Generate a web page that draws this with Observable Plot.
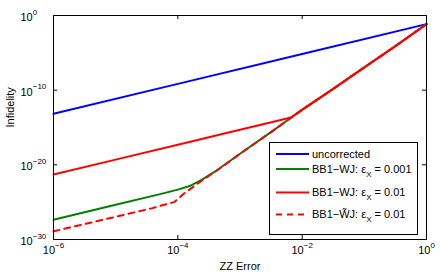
<!DOCTYPE html>
<html><head><meta charset="utf-8">
<script src="https://cdn.jsdelivr.net/npm/d3@7"></script>
<script src="https://cdn.jsdelivr.net/npm/@observablehq/plot@0.6"></script>
<style>html,body{margin:0;padding:0;background:#fff} svg{display:block}</style>
</head><body><div id="chart"></div>
<script>
// ---- tick values and labels ----
const xTicks = [1e-6, 1e-4, 1e-2, 1];
const xTickExps = ["\u22126", "\u22124", "\u22122", "0"];
const yTicks = [1, 1e-10, 1e-20, 1e-30];
const yTickExps = ["0", "\u221210", "\u221220", "\u221230"];

// ---- series ----
const uncorrectedX = [1e-6, 1e-4, 1e-2, 1];
const uncorrectedY = [7e-14, 7e-10, 7e-6, 7e-2];

const bb1wjLowX = [1e-6, 1e-5, 5e-5, 1e-4, 1.6e-4, 2.3e-4, 4e-4, 1e-3, 3.2e-3, 6.6e-3, 1e-2, 3.2e-2, 1e-1, 3.2e-1, 1];
const bb1wjLowY = [4.4e-28, 4.4e-26, 1.1e-24, 4.8e-24, 1.6e-23, 7.9e-23, 1.3e-21, 3e-19, 2.6e-16, 2e-14, 2.3e-13, 1.6e-10, 1.15e-7, 8.5e-5, 7e-2];

const bb1wjHighX = [1e-6, 1e-5, 1e-4, 1e-3, 3.2e-3, 6.6e-3, 1e-2, 3.2e-2, 1e-1, 3.2e-1, 1];
const bb1wjHighY = [5e-22, 5e-20, 5e-18, 5e-16, 5e-15, 2.2e-14, 2.5e-13, 1.6e-10, 1.15e-7, 8.5e-5, 7e-2];

const bb1wtjX = [1e-6, 1e-5, 3.9e-5, 8.9e-5, 1.26e-4, 2.3e-4, 4e-4, 1e-3, 3.2e-3, 6.6e-3, 1e-2, 3.2e-2, 1e-1, 3.2e-1, 1];
const bb1wtjY = [1.26e-29, 1.1e-27, 1.6e-26, 1.1e-25, 1.45e-24, 5.6e-23, 1.26e-21, 2.95e-19, 2.6e-16, 2.0e-14, 2.3e-13, 1.6e-10, 1.15e-7, 8.5e-5, 7e-2];

// ---- legend ----
const legendMain = ["uncorrected", "BB1\u2212WJ: \u03b5", "BB1\u2212WJ: \u03b5", "BB1\u2212W\u0303J: \u03b5"];
const legendSub = ["", "X", "X", "X"];
const legendTail = ["", " = 0.001", " = 0.01", " = 0.01"];
const seriesColors = ["#0000ff", "#008000", "#ff0000", "#ff0000"];
const seriesDash = [null, null, null, "6,5"];

const W = 440, H = 275, mL = 53, mR = 14, mT = 15, mB = 36;
const frameW = W - mL - mR, frameH = H - mT - mB;
const tickLen = 4;
const font = "'Liberation Sans', Arial, Helvetica, sans-serif";

const rows = (xs, ys) => xs.map((x, i) => ({x, y: ys[i]}));
const seriesData = [
  rows(uncorrectedX, uncorrectedY),
  rows(bb1wjLowX, bb1wjLowY),
  rows(bb1wjHighX, bb1wjHighY),
  rows(bb1wtjX, bb1wtjY)
];

const lineMarks = seriesData.map((d, i) => Plot.line(d, {
  x: "x", y: "y", stroke: seriesColors[i], strokeWidth: 2,
  strokeDasharray: seriesDash[i] || undefined, strokeLinejoin: "round"
}));

const svg = Plot.plot({
  width: W, height: H,
  marginLeft: mL, marginRight: mR, marginTop: mT, marginBottom: mB,
  style: {fontFamily: font, fontSize: "11px", background: "white", color: "black", overflow: "visible"},
  x: {type: "log", domain: [1e-6, 1], axis: null},
  y: {type: "log", domain: [1e-30, 1], axis: null},
  marks: [
    ...lineMarks,
    Plot.frame({stroke: "black", strokeWidth: 1}),
    Plot.tickX(xTicks, {x: d => d, insetTop: frameH - tickLen, stroke: "black"}),
    Plot.tickX(xTicks, {x: d => d, insetBottom: frameH - tickLen, stroke: "black"}),
    Plot.tickY(yTicks, {y: d => d, insetRight: frameW - tickLen, stroke: "black"}),
    Plot.tickY(yTicks, {y: d => d, insetLeft: frameW - tickLen, stroke: "black"}),
    Plot.text(xTicks, {x: d => d, frameAnchor: "bottom", dy: 14.5, text: (d, i) => "10|" + xTickExps[i], fontSize: 11, fill: "black"}),
    Plot.text(yTicks, {y: d => d, frameAnchor: "left", dx: -33, dy: 2, textAnchor: "start", text: (d, i) => "10|" + yTickExps[i], fontSize: 11, fill: "black"}),
    Plot.text(["ZZ Error"], {frameAnchor: "bottom", dy: 30, text: d => d, fontSize: 11, fill: "black"}),
    Plot.text(["Infidelity"], {frameAnchor: "left", dx: -43.5, rotate: -90, text: d => d, fontSize: 11, fill: "black"})
  ]
});

// superscript exponents on the tick labels
d3.select(svg).selectAll("text").each(function () {
  const t = this.textContent;
  if (t.includes("|")) {
    const [base, exp] = t.split("|");
    const sel = d3.select(this);
    sel.text(null);
    sel.append("tspan").text(base);
    sel.append("tspan").attr("font-size", 8).attr("dy", -6.5).text(exp);
  }
});

// legend box inside the plot
const lg = d3.select(svg).append("g")
  .attr("font-family", font).attr("font-size", 11).attr("fill", "black").attr("text-anchor", "start");
lg.append("rect").attr("x", 269.5).attr("y", 142.5).attr("width", 148).attr("height", 92)
  .attr("fill", "white").attr("stroke", "black").attr("stroke-width", 1);
const rowY = [154, 169, 192.5, 214.5];
legendMain.forEach((m, i) => {
  lg.append("line").attr("x1", 276).attr("x2", 309).attr("y1", rowY[i]).attr("y2", rowY[i])
    .attr("stroke", seriesColors[i]).attr("stroke-width", 2)
    .attr("stroke-dasharray", seriesDash[i]);
  const t = lg.append("text").attr("x", 312).attr("y", rowY[i]).attr("dy", "0.32em").attr("text-anchor", "start");
  t.append("tspan").text(m);
  if (legendSub[i]) {
    t.append("tspan").attr("font-size", 8).attr("dy", 4).text(legendSub[i]);
    t.append("tspan").attr("dy", -4).text(legendTail[i]);
  }
});

document.getElementById("chart").appendChild(svg);
</script>
</body></html>
